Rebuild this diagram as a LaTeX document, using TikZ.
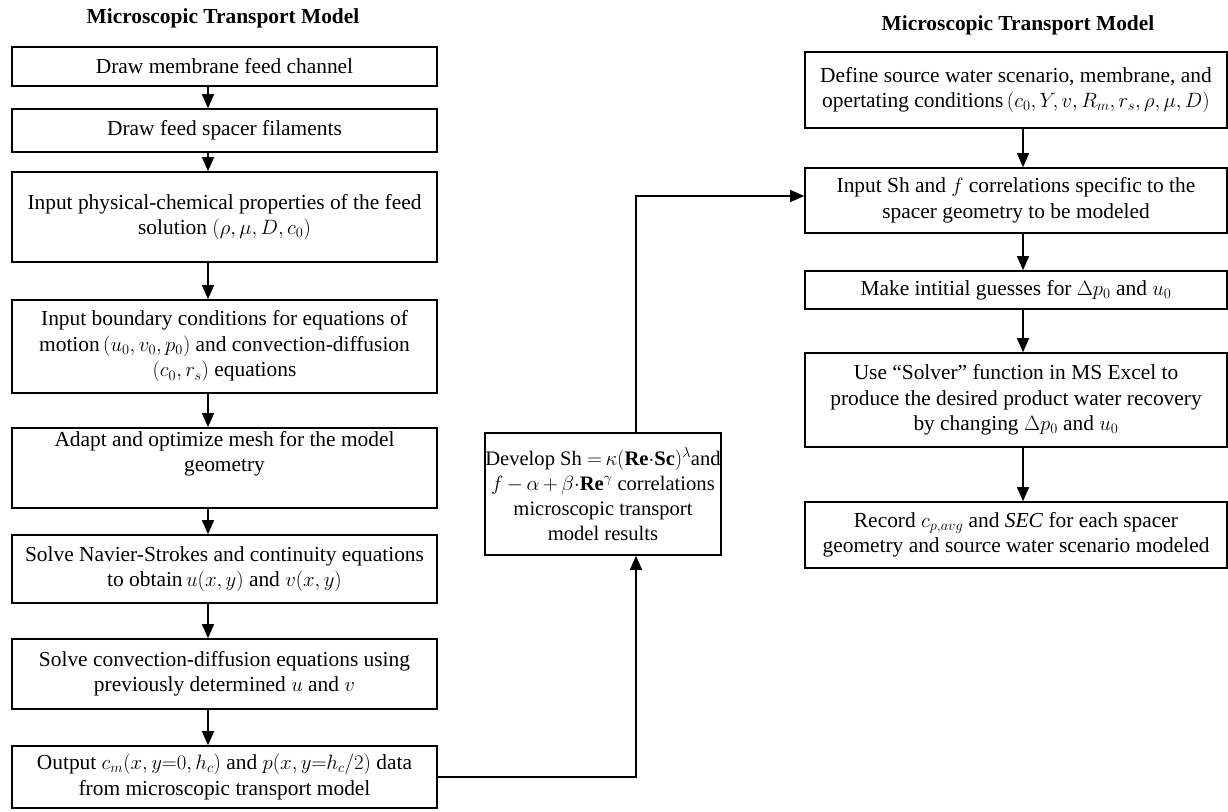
\documentclass[tikz,border=0pt]{standalone}
\usepackage{fontspec}
\setmainfont{Liberation Serif}
\usetikzlibrary{arrows.meta}
\tikzset{
  box/.style={draw, line width=1.6pt, inner sep=0pt, align=center,
    font=\fontsize{21.4}{25.5}\selectfont},
  ttl/.style={font=\fontsize{21.4}{24}\selectfont\bfseries, inner sep=0pt},
  arr/.style={line width=1.3pt, -{Triangle[width=12pt,length=14pt]}}
}
\begin{document}
\begin{tikzpicture}[x=1pt,y=-1pt]
\useasboundingbox (0,0) rectangle (1228,811);
\node[ttl] (t1) at (223,18) {Microscopic Transport Model};
\node[ttl] (t2) at (1018,25) {Microscopic Transport Model};
% left column
\node[box, minimum width=425pt, minimum height=39pt] (b1) at (224.5,66.5) {Draw membrane feed channel};
\node[box, minimum width=425pt, minimum height=43pt] (b2) at (224.5,130.5) {Draw feed spacer filaments};
\node[box, minimum width=425pt, minimum height=90pt] (b3) at (224.5,217) {Input physical-chemical properties of the feed\\ solution $(\rho, \mu, D, c_0)$};
\node[box, minimum width=425pt, minimum height=93pt] (b4) at (224.5,346.5) {Input boundary conditions for equations of\\ motion$\,(u_0, v_0, p_0)$ and convection-diffusion\\ $(c_0, r_s)$ equations};
\node[box, minimum width=425pt, minimum height=80pt] (b5) at (224.5,468) {Adapt and optimize mesh for the model\\ geometry\\[8pt]};
\node[box, minimum width=425pt, minimum height=68pt] (b6) at (224.5,569) {Solve Navier-Strokes and continuity equations\\ to obtain$\,u(x,y)$ and $v(x,y)$};
\node[box, minimum width=425pt, minimum height=70pt] (b7) at (224.5,674) {Solve convection-diffusion equations using\\ previously determined $u$ and $v$};
\node[box, minimum width=425pt, minimum height=62pt] (b8) at (224.5,777) {Output $c_m(x,y{=}0,h_c)$ and $p(x,y{=}h_c/2)$ data\\ from microscopic transport model};
% middle
\node[box, minimum width=228pt, minimum height=122pt, font=\fontsize{20.6}{25}\selectfont] (m) at (603,494) {Develop Sh ${=}\,\kappa(\mathbf{Re}{\cdot}\mathbf{Sc})^{\lambda}$and\\ $f\,{-}\,\alpha\,{+}\,\beta{\cdot}\mathbf{Re}^{\gamma}$ correlations\\ microscopic transport\\ model results};
% right column
\node[box, minimum width=422pt, minimum height=76pt] (r1) at (1016,90) {Define source water scenario, membrane, and\\ opertating conditions$\,(c_0, Y, v, R_m, r_s, \rho, \mu, D)$};
\node[box, minimum width=422pt, minimum height=65pt] (r2) at (1016,200.5) {Input Sh and $f$ correlations specific to the\\ spacer geometry to be modeled};
\node[box, minimum width=422pt, minimum height=38pt] (r3) at (1016,290) {Make intitial guesses for $\Delta p_0$ and $u_0$};
\node[box, minimum width=422pt, minimum height=94pt] (r4) at (1016,400) {Use “Solver” function in MS Excel to\\ produce the desired product water recovery\\ by changing $\Delta p_0$ and $u_0$};
\node[box, minimum width=422pt, minimum height=66pt] (r5) at (1016,535) {Record $c_{p,avg}$ and \textit{SEC} for each spacer\\ geometry and source water scenario modeled};
% left arrows
\foreach \a/\b in {b1/b2,b2/b3,b3/b4,b4/b5,b5/b6,b6/b7,b7/b8}
  \draw[arr] ([xshift=-16.5pt]\a.south) -- ([xshift=-16.5pt]\b.north);
% right arrows
\foreach \a/\b in {r1/r2,r2/r3,r3/r4,r4/r5}
  \draw[arr] ([xshift=7pt]\a.south) -- ([xshift=7pt]\b.north);
% cross connectors
\draw[arr] (b8.east) -| ([xshift=33pt]m.south);
\draw[arr] ([xshift=33pt]m.north) |- ([yshift=4.5pt]r2.west);
\end{tikzpicture}
\end{document}
